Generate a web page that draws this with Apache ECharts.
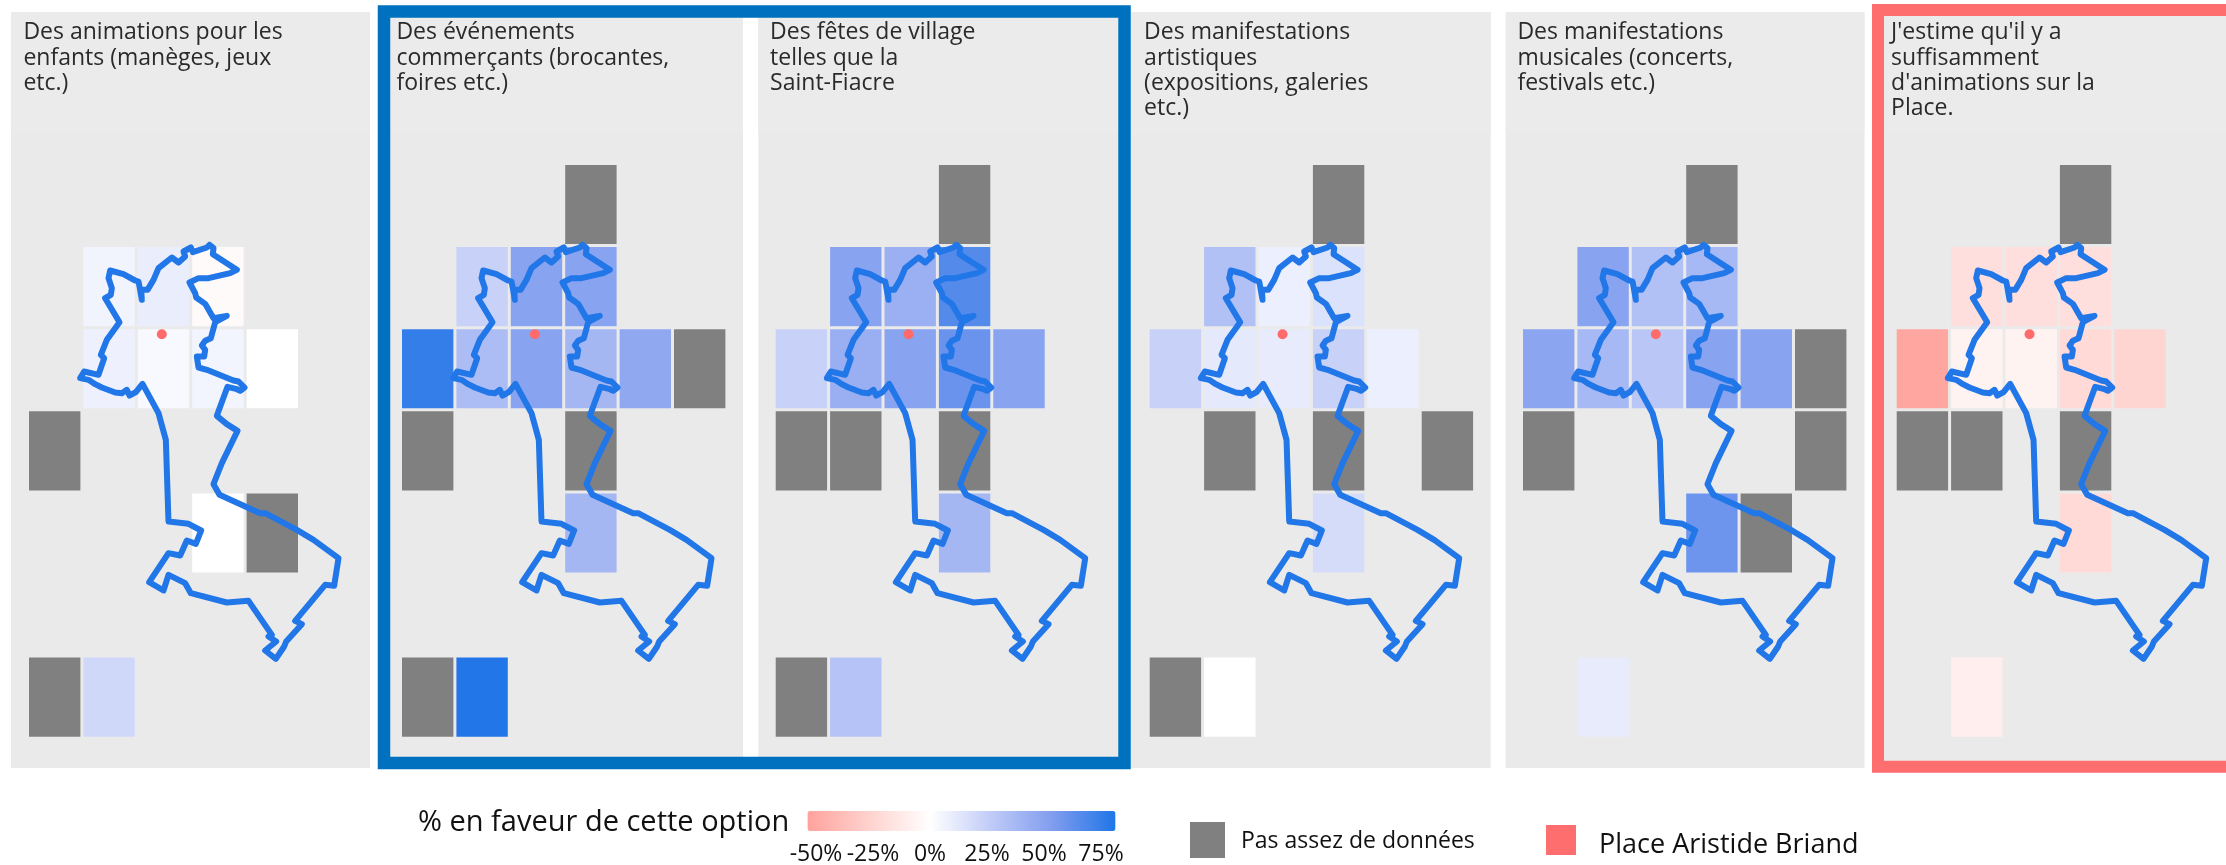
<!DOCTYPE html>
<html>
<head>
<meta charset="utf-8">
<title>Place Aristide Briand</title>
<script src="https://cdn.jsdelivr.net/npm/echarts@6/dist/echarts.min.js"></script>
<style>
html,body{margin:0;padding:0;background:#fff;}
#main{width:2226px;height:865px;}
</style>
</head>
<body>
<div id="main"></div>
<script>
// questions, one per panel
var titles = [
	"Des animations pour les\nenfants (manèges, jeux\netc.)",
	"Des événements\ncommerçants (brocantes,\nfoires etc.)",
	"Des fêtes de village\ntelles que la\nSaint-Fiacre",
	"Des manifestations\nartistiques\n(expositions, galeries\netc.)",
	"Des manifestations\nmusicales (concerts,\nfestivals etc.)",
	"J'estime qu'il y a\nsuffisamment\nd'animations sur la\nPlace."
];

// [colonne, ligne, % en faveur]
var cellsEnfants = [[1,1,6],[2,1,9],[3,1,-3],[1,2,7],[2,2,3],[3,2,5],[4,2,0],[3,4,0],[1,6,20]];
var cellsCommercants = [[1,1,23],[2,1,50],[3,1,50],[0,2,75],[1,2,35],[2,2,50],[3,2,38],[4,2,47],[3,4,38],[1,6,80]];
var cellsFetes = [[1,1,50],[2,1,42],[3,1,66],[0,2,23],[1,2,43],[2,2,50],[3,2,60],[4,2,50],[3,4,38],[1,6,31]];
var cellsArtistiques = [[1,1,33],[2,1,8],[3,1,15],[0,2,23],[1,2,11],[2,2,10],[3,2,23],[4,2,8],[3,4,18],[1,6,0]];
var cellsMusicales = [[1,1,50],[2,1,33],[3,1,37],[0,2,49],[1,2,37],[2,2,29],[3,2,50],[4,2,50],[3,4,59],[1,6,10]];
var cellsSuffisant = [[1,1,-19],[2,1,-19],[3,1,-19],[0,2,-52],[1,2,-7],[2,2,-7],[3,2,-22],[4,2,-25],[3,4,-22],[1,6,-10]];

// pas assez de donnees
var grayEnfants = [[0,3],[4,4],[0,6]];
var grayCommercants = [[3,0],[5,2],[0,3],[3,3],[0,6]];
var grayFetes = [[3,0],[0,3],[1,3],[3,3],[0,6]];
var grayArtistiques = [[3,0],[1,3],[3,3],[5,3],[0,6]];
var grayMusicales = [[3,0],[5,2],[0,3],[5,3],[4,4]];
var graySuffisant = [[3,0],[0,3],[1,3],[3,3]];

var colorStops = ['#ffa29c','#ffd2ce','#ffffff','#bfcaf7','#7f9cee','#1f75e8'];

// contour de la zone, unites de la carte
var contour = [
	[546,244],[558,254],[556,272],[628,319],[608,329],[543,344],[513,344],[486,357],[503,389],[506,402],
	[533,421],[558,464],[598,457],[563,476],[550,524],[533,532],[523,546],[533,559],[530,579],[508,579],
	[513,612],[538,619],[618,651],[633,654],[651,672],[638,682],[625,676],[600,670],[568,757],[598,782],
	[630,802],[583,899],[558,962],[576,994],[698,1049],[713,1049],[808,1099],[858,1129],[933,1184],[920,1267],
	[893,1264],[803,1372],[823,1382],[776,1434],[770,1449],[745,1486],[713,1461],[746,1434],[723,1419],[733,1414],
	[663,1312],[598,1317],[490,1289],[473,1259],[423,1234],[408,1281],[365,1256],[423,1169],[458,1176],[478,1131],
	[505,1141],[521,1101],[483,1081],[423,1074],[415,829],[393,749],[345,661],[325,686],[306,696],[298,679],
	[283,689],[263,687],[223,672],[203,662],[183,649],[158,644],[170,624],[213,634],[230,584],[220,574],
	[238,529],[276,476],[233,404],[250,394],[253,374],[243,344],[248,321],[288,332],[323,351],[333,354],
	[336,369],[331,374],[343,409],[341,379],[360,379],[378,349],[393,314],[433,282],[453,297],[473,279],
	[468,264],[490,252],[496,266],[538,252],[546,244]
];
var place = [403,512];

var allCells = [cellsEnfants,cellsCommercants,cellsFetes,cellsArtistiques,cellsMusicales,cellsSuffisant];
var allGray = [grayEnfants,grayCommercants,grayFetes,grayArtistiques,grayMusicales,graySuffisant];

// mise en page
var fontName = '"Open Sans"';
var gridLeft = [29,402,775.7,1149.7,1523,1896.7];
var panelBox = [[11,370],[384,743],[758.3,1118],[1131,1490.7],[1505.7,1864.5],[1884,2226]];
var pitchX = 54.4, pitchY = 82.1, gap = 3;

function renderCell(params, api){
	var p = api.coord([api.value(0), api.value(1)]);
	var s = api.size([1,1]);
	return {
		type:'rect',
		shape:{x:p[0]+gap/2, y:p[1]+gap/2, width:s[0]-gap, height:s[1]-gap},
		style:{fill:api.visual('color')}
	};
}

var grids = [], xAxes = [], yAxes = [], series = [], titleList = [], elements = [], colorSeries = [];

for(var i = 0; i < 6; i++){
	elements.push({type:'rect', shape:{x:panelBox[i][0], y:12, width:panelBox[i][1]-panelBox[i][0], height:756}, style:{fill:'#eaeaea'}, z:-2});
	elements.push({type:'rect', shape:{x:panelBox[i][0], y:12, width:panelBox[i][1]-panelBox[i][0], height:121}, style:{fill:'#ebebeb'}, z:-2});

	grids.push({left:gridLeft[i]-gap/2, top:163.5, width:pitchX*6, height:pitchY*7});
	// deux paires d'axes : cases et carte
	xAxes.push({gridIndex:i, type:'value', min:0, max:6, show:false});
	yAxes.push({gridIndex:i, type:'value', min:0, max:7, inverse:true, show:false});
	xAxes.push({gridIndex:i, type:'value', min:0, max:pitchX*18, show:false});
	yAxes.push({gridIndex:i, type:'value', min:0, max:pitchY*21, inverse:true, show:false});

	colorSeries.push(series.length);
	series.push({
		type:'custom', xAxisIndex:i*2, yAxisIndex:i*2,
		renderItem:renderCell, encode:{x:0,y:1},
		data:allCells[i], silent:true, animation:false
	});
	series.push({
		type:'custom', xAxisIndex:i*2, yAxisIndex:i*2,
		renderItem:renderCell, encode:{x:0,y:1},
		itemStyle:{color:'#808080'},
		data:allGray[i], silent:true, animation:false
	});
	series.push({
		type:'line', xAxisIndex:i*2+1, yAxisIndex:i*2+1,
		data:contour, showSymbol:false, symbol:'none', silent:true, animation:false, z:3,
		lineStyle:{color:'#2176e8', width:6, join:'round', cap:'round'}
	});
	series.push({
		type:'scatter', xAxisIndex:i*2+1, yAxisIndex:i*2+1,
		data:[place], symbol:'circle', symbolSize:10, silent:true, animation:false, z:4,
		itemStyle:{color:'#ff6b6b', opacity:1}
	});

	titleList.push({
		text:titles[i], left:gridLeft[i]-5.6, top:20, padding:0,
		textStyle:{fontFamily:fontName, fontWeight:400, fontSize:23, lineHeight:25.4, color:'#2a2a2a'}
	});
}

// cadres
elements.push({type:'rect', shape:{x:384, y:11.5, width:740.5, height:751.5}, style:{fill:null, stroke:'#0071bf', lineWidth:12.5}, z:-1});
elements.push({type:'rect', shape:{x:1878, y:10, width:400, height:756.7}, style:{fill:null, stroke:'#ff6e6e', lineWidth:12}, z:-1});

// legende
elements.push({type:'text', x:418, y:823, style:{text:'% en faveur de cette option', fontFamily:fontName, fontSize:29, fill:'#111', verticalAlign:'middle'}});
elements.push({type:'rect', shape:{x:1190, y:822, width:35, height:36}, style:{fill:'#808080'}});
elements.push({type:'text', x:1241, y:841, style:{text:'Pas assez de données', fontFamily:fontName, fontSize:23, fill:'#111', verticalAlign:'middle'}});
elements.push({type:'rect', shape:{x:1546, y:825, width:30, height:30}, style:{fill:'#ff6e6e'}});
elements.push({type:'text', x:1599, y:845, style:{text:'Place Aristide Briand', fontFamily:fontName, fontSize:27, fill:'#111', verticalAlign:'middle'}});

// axe de la legende
grids.push({left:816, top:832, width:285, height:1});
xAxes.push({
	gridIndex:6, type:'value', min:-50, max:75, interval:25,
	axisLine:{show:false}, axisTick:{show:false}, splitLine:{show:false},
	axisLabel:{show:true, fontFamily:fontName, fontSize:23, color:'#111', margin:11, hideOverlap:false, formatter:'{value}%'}
});
yAxes.push({gridIndex:6, type:'value', show:false});

var myChart = echarts.init(document.getElementById('main'), null, {renderer:'canvas'});
myChart.setOption({
	backgroundColor:'#ffffff',
	animation:false,
	title:titleList,
	grid:grids,
	xAxis:xAxes,
	yAxis:yAxes,
	visualMap:{
		type:'continuous', min:-54, max:81, dimension:2, seriesIndex:colorSeries,
		orient:'horizontal', left:807.5, top:811, itemWidth:20, itemHeight:308,
		calculable:false, hoverLink:false, text:['',''], textGap:0, padding:0,
		inRange:{color:colorStops}
	},
	series:series,
	graphic:{elements:elements}
});
</script>
</body>
</html>
